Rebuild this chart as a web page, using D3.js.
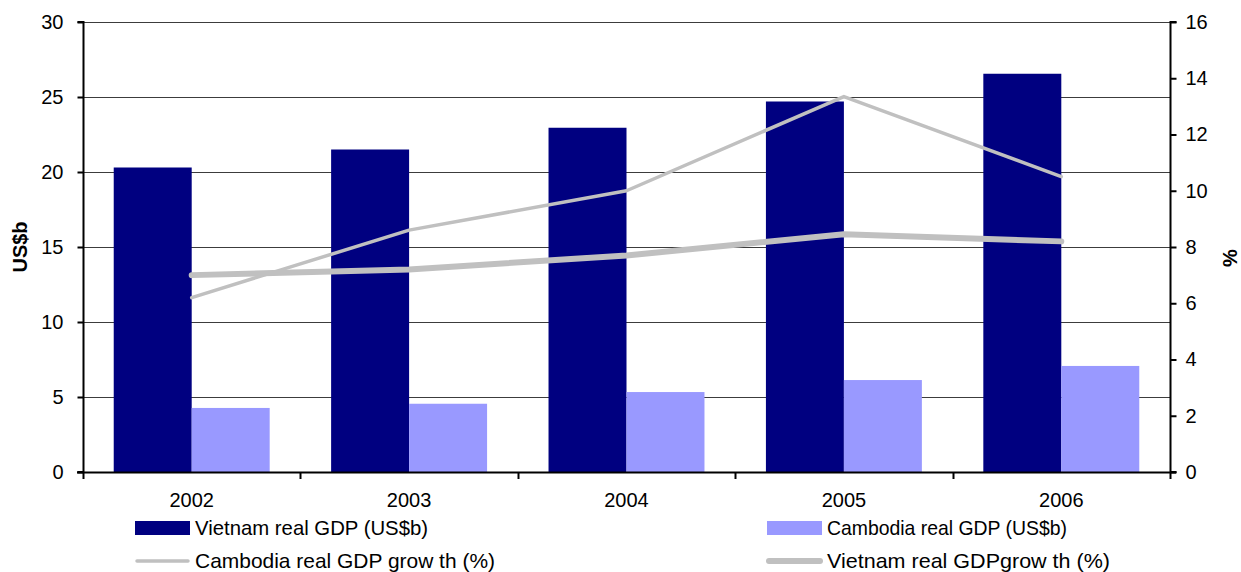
<!DOCTYPE html>
<html>
<head>
<meta charset="utf-8">
<script src="https://cdn.jsdelivr.net/npm/d3@7"></script>
<style>
  body { margin: 0; background: #fff; }
  text { font-family: "Liberation Sans", Arial, sans-serif; fill: #000; }
</style>
</head>
<body>
<svg></svg>
<script>
var width = 1241, height = 572;

var years = ["2002", "2003", "2004", "2005", "2006"];
var vietnamGdp = [20.3, 21.5, 22.95, 24.7, 26.55];
var cambodiaGdp = [4.27, 4.55, 5.33, 6.13, 7.07];
var cambodiaGrowth = [6.2, 8.6, 10.0, 13.35, 10.5];
var vietnamGrowth = [7.0, 7.2, 7.7, 8.45, 8.2];
var leftTicks = [0, 5, 10, 15, 20, 25, 30];
var rightTicks = [0, 2, 4, 6, 8, 10, 12, 14, 16];

var margin = {left: 83, right: 71, top: 22, bottom: 100};

var svg = d3.select("svg")
  .attr("width", width)
  .attr("height", height);

var x = d3.scaleBand()
  .domain(years)
  .range([margin.left, width - margin.right])
  .paddingInner(0)
  .paddingOuter(0);

var xInner = d3.scaleBand()
  .domain(["vn", "kh"])
  .range([0, x.bandwidth()])
  .paddingOuter(0.394)
  .paddingInner(0);

var yL = d3.scaleLinear().domain([0, 30]).range([height - margin.bottom, margin.top]);
var yR = d3.scaleLinear().domain([0, 16]).range([height - margin.bottom, margin.top]);

// gridlines
svg.append("g")
  .selectAll("line")
  .data(leftTicks.slice(1))
  .enter()
  .append("line")
  .attr("x1", margin.left)
  .attr("x2", width - margin.right)
  .attr("y1", function(d){ return Math.round(yL(d)) + 0.5; })
  .attr("y2", function(d){ return Math.round(yL(d)) + 0.5; })
  .attr("stroke", "#3c3c3c")
  .attr("stroke-width", 1);

// bars
var groups = svg.append("g")
  .selectAll("g")
  .data(years)
  .enter()
  .append("g")
  .attr("transform", function(d){ return "translate(" + x(d) + ",0)"; });

groups.append("rect")
  .attr("x", xInner("vn"))
  .attr("width", xInner.bandwidth())
  .attr("y", function(d, i){ return yL(vietnamGdp[i]); })
  .attr("height", function(d, i){ return yL(0) - yL(vietnamGdp[i]); })
  .attr("fill", "#000080");

groups.append("rect")
  .attr("x", xInner("kh"))
  .attr("width", xInner.bandwidth())
  .attr("y", function(d, i){ return yL(cambodiaGdp[i]); })
  .attr("height", function(d, i){ return yL(0) - yL(cambodiaGdp[i]); })
  .attr("fill", "#9999ff");

// lines
var line = d3.line()
  .x(function(d, i){ return x(years[i]) + x.bandwidth() / 2; })
  .y(function(d){ return yR(d); });

svg.append("path")
  .datum(vietnamGrowth)
  .attr("d", line)
  .attr("fill", "none")
  .attr("stroke", "#c0c0c0")
  .attr("stroke-width", 6)
  .attr("stroke-linecap", "round")
  .attr("stroke-linejoin", "round");

svg.append("path")
  .datum(cambodiaGrowth)
  .attr("d", line)
  .attr("fill", "none")
  .attr("stroke", "#c0c0c0")
  .attr("stroke-width", 3.5)
  .attr("stroke-linecap", "round")
  .attr("stroke-linejoin", "round");

// axes
var leftAxis = svg.append("g")
  .attr("transform", "translate(" + (margin.left + 0.5) + ",0)")
  .call(d3.axisLeft(yL).tickValues(leftTicks).tickSize(6).tickPadding(14));

var rightAxis = svg.append("g")
  .attr("transform", "translate(" + (width - margin.right + 0.5) + ",0)")
  .call(d3.axisRight(yR).tickValues(rightTicks).tickSize(6).tickPadding(9));

var bottomAxis = svg.append("g")
  .attr("transform", "translate(0," + (yL(0) + 0.5) + ")")
  .call(d3.axisBottom(x).tickSize(0).tickPadding(20));

// category boundary ticks
svg.append("g")
  .selectAll("line")
  .data(years.concat(["end"]))
  .enter()
  .append("line")
  .attr("x1", function(d, i){ return Math.round(margin.left + i * x.step()) + 0.5; })
  .attr("x2", function(d, i){ return Math.round(margin.left + i * x.step()) + 0.5; })
  .attr("y1", yL(0))
  .attr("y2", yL(0) + 7)
  .attr("stroke", "#000")
  .attr("stroke-width", 2);

[leftAxis, rightAxis, bottomAxis].forEach(function(a){
  a.select(".domain").attr("stroke", "#000").attr("stroke-width", 2);
  a.selectAll(".tick line").attr("stroke", "#000").attr("stroke-width", 2);
  a.selectAll("text").style("font-size", "20px").attr("fill", "#000");
});
leftAxis.select(".domain").attr("d", "M-6," + yL(30) + "H0V" + yL(0) + "H-6");
rightAxis.select(".domain").attr("d", "M6," + yR(16) + "H0V" + yR(0) + "H6");
bottomAxis.select(".domain").attr("d", "M" + (margin.left - 6) + ",0H" + (width - margin.right + 6));
bottomAxis.selectAll("text").attr("dy", "0.71em");

// axis titles
svg.append("text")
  .attr("transform", "translate(27," + (margin.top + 225) + ") rotate(-90)")
  .attr("text-anchor", "middle")
  .style("font-size", "20px")
  .style("font-weight", "bold")
  .text("US$b");

svg.append("text")
  .attr("transform", "translate(1237," + 258 + ") rotate(-90)")
  .attr("text-anchor", "middle")
  .style("font-size", "20px")
  .style("font-weight", "bold")
  .text("%");

// legend
var legendItems = [
  {label: "Vietnam real GDP (US$b)", type: "rect", color: "#000080", x: 135, y: 528, len: 233},
  {label: "Cambodia real GDP (US$b)", type: "rect", color: "#9999ff", x: 767, y: 528, len: 240},
  {label: "Cambodia real GDP grow th (%)", type: "line", w: 3.5, color: "#c0c0c0", x: 135, y: 561, len: 300},
  {label: "Vietnam real GDPgrow th (%)", type: "line", w: 6, color: "#c0c0c0", x: 767, y: 561, len: 283}
];

var legend = svg.append("g")
  .selectAll("g")
  .data(legendItems)
  .enter()
  .append("g")
  .attr("transform", function(d){ return "translate(" + d.x + "," + d.y + ")"; });

legend.filter(function(d){ return d.type === "rect"; })
  .append("rect")
  .attr("x", 0).attr("y", -7)
  .attr("width", 55).attr("height", 14)
  .attr("fill", function(d){ return d.color; });

legend.filter(function(d){ return d.type === "line"; })
  .append("line")
  .attr("x1", 2).attr("x2", 53)
  .attr("stroke", function(d){ return d.color; })
  .attr("stroke-width", function(d){ return d.w; })
  .attr("stroke-linecap", "round");

legend.append("text")
  .attr("x", 60)
  .attr("dy", "0.35em")
  .attr("textLength", function(d){ return d.len; })
  .attr("lengthAdjust", "spacingAndGlyphs")
  .style("font-size", "21px")
  .text(function(d){ return d.label; });
</script>
</body>
</html>
